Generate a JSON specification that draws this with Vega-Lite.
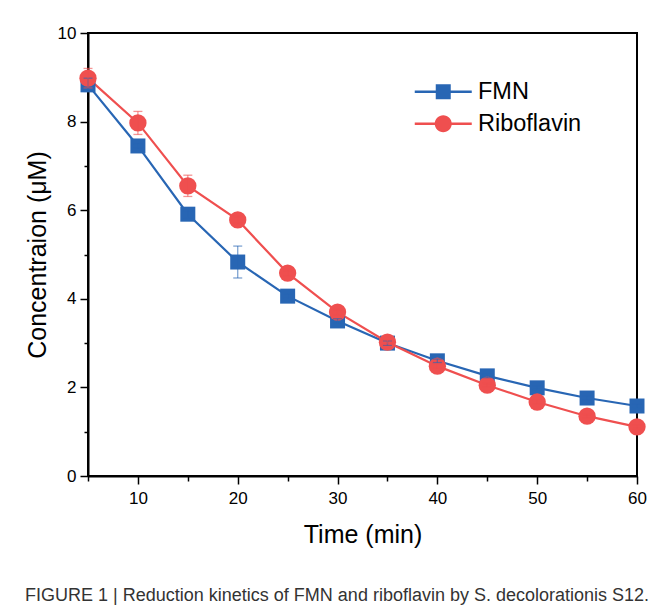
{
  "$schema": "https://vega.github.io/schema/vega-lite/v6.json",
  "autosize": {"type": "none"},
  "padding": {"left": 88, "top": 33, "right": 18, "bottom": 132},
  "width": 549,
  "height": 443,
  "background": "white",
  "title": {
    "text": "FIGURE 1 | Reduction kinetics of FMN and riboflavin by S. decolorationis S12.",
    "orient": "bottom",
    "anchor": "start",
    "frame": "bounds",
    "offset": 40,
    "font": "Liberation Sans",
    "fontSize": 18,
    "fontWeight": "normal",
    "color": "#333333"
  },
  "config": {
    "font": "Liberation Sans",
    "view": {"stroke": "black", "strokeWidth": 2},
    "axis": {
      "domainColor": "black",
      "domainWidth": 2,
      "tickColor": "black",
      "tickWidth": 1.5,
      "labelColor": "black",
      "labelFont": "Liberation Sans",
      "labelFontSize": 17,
      "titleFont": "Liberation Sans",
      "titleFontSize": 25,
      "titleFontWeight": "normal",
      "titleColor": "black",
      "grid": false
    }
  },
  "data": {
    "values": [
      {"t": 5, "series": "FMN", "value": 8.83, "err": 0.15},
      {"t": 10, "series": "FMN", "value": 7.45, "err": 0.05},
      {"t": 15, "series": "FMN", "value": 5.91, "err": 0.08},
      {"t": 20, "series": "FMN", "value": 4.83, "err": 0.36},
      {"t": 25, "series": "FMN", "value": 4.06, "err": 0.05},
      {"t": 30, "series": "FMN", "value": 3.5, "err": 0.05},
      {"t": 35, "series": "FMN", "value": 3.0, "err": 0.05},
      {"t": 40, "series": "FMN", "value": 2.6, "err": 0.04},
      {"t": 45, "series": "FMN", "value": 2.26, "err": 0.04},
      {"t": 50, "series": "FMN", "value": 1.99, "err": 0.04},
      {"t": 55, "series": "FMN", "value": 1.76, "err": 0.04},
      {"t": 60, "series": "FMN", "value": 1.58, "err": 0.04},
      {"t": 5, "series": "Riboflavin", "value": 8.98, "err": 0.22},
      {"t": 10, "series": "Riboflavin", "value": 7.97, "err": 0.26},
      {"t": 15, "series": "Riboflavin", "value": 6.55, "err": 0.24},
      {"t": 20, "series": "Riboflavin", "value": 5.78, "err": 0.08},
      {"t": 25, "series": "Riboflavin", "value": 4.58, "err": 0.06},
      {"t": 30, "series": "Riboflavin", "value": 3.7, "err": 0.06},
      {"t": 35, "series": "Riboflavin", "value": 3.02, "err": 0.05},
      {"t": 40, "series": "Riboflavin", "value": 2.48, "err": 0.05},
      {"t": 45, "series": "Riboflavin", "value": 2.05, "err": 0.04},
      {"t": 50, "series": "Riboflavin", "value": 1.67, "err": 0.04},
      {"t": 55, "series": "Riboflavin", "value": 1.35, "err": 0.04},
      {"t": 60, "series": "Riboflavin", "value": 1.11, "err": 0.04}
    ]
  },
  "encoding": {
    "x": {
      "field": "t",
      "type": "quantitative",
      "scale": {"domain": [5, 60], "nice": false, "zero": false},
      "axis": {
        "title": "Time (min)",
        "values": [5, 10, 15, 20, 25, 30, 35, 40, 45, 50, 55, 60],
        "labelExpr": "datum.value % 10 === 0 ? datum.label : ''",
        "tickSize": {"condition": {"test": "datum.value % 10 === 0", "value": 8}, "value": 5},
        "labelFlush": false,
        "labelOverlap": false,
        "labelPadding": 6,
        "titlePadding": 16
      }
    },
    "y": {
      "field": "value",
      "type": "quantitative",
      "scale": {"domain": [0, 10], "nice": false},
      "axis": {
        "title": "Concentraion (μM)",
        "values": [0, 1, 2, 3, 4, 5, 6, 7, 8, 9, 10],
        "labelExpr": "datum.value % 2 === 0 ? datum.label : ''",
        "tickSize": {"condition": {"test": "datum.value % 2 === 0", "value": 8}, "value": 4},
        "labelOverlap": false,
        "labelPadding": 4,
        "titlePadding": 7
      }
    },
    "color": {
      "field": "series",
      "type": "nominal",
      "scale": {"domain": ["FMN", "Riboflavin"], "range": ["#2866b4", "#ef4f4f"]},
      "legend": {
        "title": null,
        "orient": "none",
        "legendX": 343.5,
        "legendY": 47,
        "padding": 0,
        "symbolSize": 400,
        "labelOffset": 23,
        "labelFontSize": 23.5,
        "labelFont": "Liberation Sans",
        "labelColor": "black",
        "rowPadding": 7,
        "symbolStrokeWidth": 0,
        "symbolOpacity": 1,
        "symbolType": {"expr": "datum.value === 'FMN' ? 'M-2.85,-0.12H2.85V0.12H-2.85Z M-0.75,-0.75H0.75V0.75H-0.75Z' : 'M-2.85,-0.12H2.85V0.12H-2.85Z M-0.85,0A0.85,0.85 0 1,1 0.85,0A0.85,0.85 0 1,1 -0.85,0Z'"},
        "symbolFillColor": {"expr": "datum.value === 'FMN' ? '#2866b4' : '#ef4f4f'"}
      }
    }
  },
  "layer": [
    {
      "mark": {"type": "line", "strokeWidth": 2.2}
    },
    {
      "transform": [{"filter": "datum.series === 'FMN'"}],
      "mark": {"type": "point", "filled": true, "shape": "square", "size": 225, "opacity": 1}
    },
    {
      "transform": [{"filter": "datum.series === 'Riboflavin'"}],
      "mark": {"type": "point", "filled": true, "shape": "circle", "size": 300, "opacity": 1}
    },
    {
      "mark": {"type": "errorbar", "ticks": {"size": 9}, "thickness": 1.3, "opacity": 0.6},
      "encoding": {
        "yError": {"field": "err"}
      }
    }
  ]
}
